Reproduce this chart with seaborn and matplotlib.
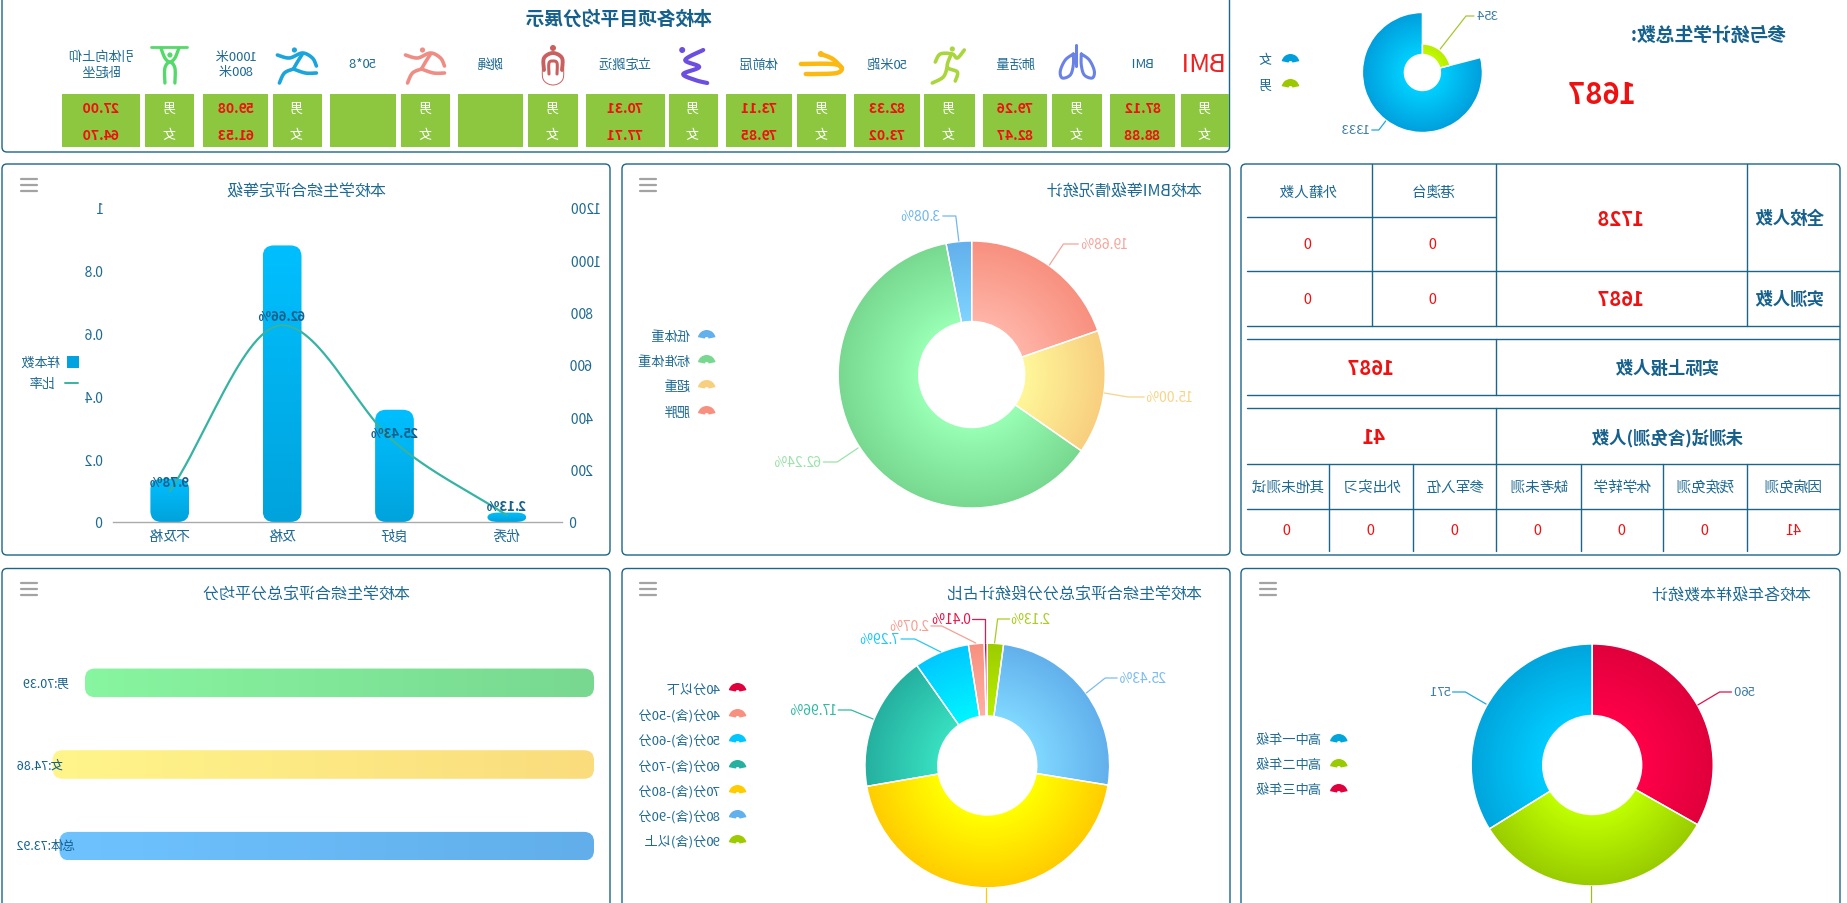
import numpy as np
import pandas as pd
import matplotlib
matplotlib.use("Agg")
import matplotlib.pyplot as plt
import seaborn as sns
from matplotlib.colors import LinearSegmentedColormap
from matplotlib.patches import FancyBboxPatch, Wedge, Circle

# top strip
item_names = ["BMI", "肺活量", "50米跑", "体前屈", "立定跳远", "跳绳", "50*8", "1000米\n800米", "引体向上仰\n卧起坐"]
boy_scores = ["87.12", "79.26", "82.33", "73.11", "70.31", "", "", "59.08", "27.00"]
girl_scores = ["88.88", "82.47", "73.02", "79.85", "77.71", "", "", "61.53", "64.70"]

# gender donut
gender_names = ["女", "男"]
gender_counts = [1333, 354]
total_students = 1687

# grade bars
level_names = ["优秀", "良好", "及格", "不及格"]
level_counts = [36, 429, 1057, 165]
level_ratio = [0.0213, 0.2543, 0.6266, 0.0978]
level_ticks_count = [0, 200, 400, 600, 800, 1000, 1200]
level_ticks_ratio = [0, 0.2, 0.4, 0.6, 0.8, 1]

# bmi donut
bmi_names = ["低体重", "标准体重", "超重", "肥胖"]
bmi_share = [3.08, 62.24, 15.00, 19.68]

# average score
avg_names = ["男", "女", "总体"]
avg_scores = [70.39, 74.86, 73.92]

# score bands
band_names = ["40分以下", "40分(含)-50分", "50分(含)-60分", "60分(含)-70分", "70分(含)-80分", "80分(含)-90分", "90分(含)以上"]
band_share = [0.41, 2.07, 7.29, 17.96, 44.71, 25.43, 2.13]

# year groups
year_names = ["高中一年级", "高中二年级", "高中三年级"]
year_counts = [571, 556, 560]

# table
school_total = 1728
reported_total = 1687
untested_total = 41
absent_names = ["因病免测", "残疾免测", "休学转学", "缺考未测", "参军入伍", "外出实习", "其他未测试"]
absent_counts = [41, 0, 0, 0, 0, 0, 0]

W, H = 1847, 904
BLUE = "#1c6488"
TEXT = "#1f6a92"
RED = "#ee1111"

sns.set_theme(style="white")
plt.rcParams["font.family"] = ["Noto Sans CJK SC", "DejaVu Sans"]

fig = plt.figure(figsize=(W / 100, H / 100), dpi=100, facecolor="white")


# the reference is a mirror image, so the whole canvas gets flipped when it is drawn
def mirror(img, dpi):
    return img[:, ::-1], 0, 0


fig.set_agg_filter(mirror)


# all coordinates below are pixels of the final (mirrored) picture
def px_axes(x0, y0, x1, y1):
    ax = fig.add_axes([(W - x1) / W, (H - y1) / H, (x1 - x0) / W, (y1 - y0) / H])
    ax.patch.set_visible(False)
    return ax


def layer(z):
    ax = fig.add_axes([0, 0, 1, 1], zorder=z)
    ax.set_xlim(W, 0)
    ax.set_ylim(H, 0)
    ax.set_axis_off()
    ax.patch.set_visible(False)
    return ax


bg = layer(0)
fg = layer(5)


def put(x, y, s, size=10, color=TEXT, bold=False, ha="center", ax=fg):
    # ha is on the unflipped canvas: "left" grows to the left in the picture
    ax.text(x, y, s, fontsize=size, color=color, ha=ha, va="center",
            fontweight="bold" if bold else "normal", linespacing=1.25)


def panel(x0, y0, x1, y1):
    bg.add_patch(FancyBboxPatch((x0, y0), x1 - x0, y1 - y0, boxstyle="round,pad=0,rounding_size=5",
                                fc="white", ec=BLUE, lw=1.0))


def menu(x0, y):
    for d in [0, 6, 12]:
        bg.plot([x0, x0 + 16], [y + d, y + d], color="#a3a3a3", lw=1.6)


def fan(x, y, color):
    bg.add_patch(Wedge((x, y + 3), 9, 192, 348, width=7, fc=color, ec="none"))


def leader(pts, color):
    xs, ys = zip(*pts)
    fg.plot(xs, ys, color=color, lw=0.9)


def rounded_bar(ax, patch, c0, c1, radius, along_x=False):
    # swap a seaborn bar for a rounded one with a gradient
    x, y, w, h = patch.get_x(), patch.get_y(), patch.get_width(), patch.get_height()
    xlim, ylim = ax.get_xlim(), ax.get_ylim()
    bb = ax.get_window_extent()
    xpp = abs(xlim[1] - xlim[0]) / bb.width
    ypp = abs(ylim[1] - ylim[0]) / bb.height
    rx = min(radius, abs(w) / xpp / 2)
    ry = min(radius, abs(h) / ypp / 2)
    box = FancyBboxPatch((x, y), w, h, boxstyle=f"round,pad=0,rounding_size={rx * xpp}",
                         mutation_aspect=(ry * ypp) / (rx * xpp), fc="none", ec="none")
    ax.add_patch(box)
    ramp = np.linspace(0, 1, 64)
    ramp = ramp[None, :] if along_x else ramp[:, None]
    cmap = LinearSegmentedColormap.from_list("g", [c0, c1])
    im = ax.imshow(ramp, cmap=cmap, extent=[x, x + w, y, y + h], origin="lower", aspect="auto", zorder=2)
    im.set_clip_path(box)
    patch.set_visible(False)
    ax.set_xlim(xlim)
    ax.set_ylim(ylim)


def donut(cx, cy, R, r, values, inner, outer, radii=None):
    ax = px_axes(cx - 1.25 * R, cy - 1.25 * R, cx + 1.25 * R, cy + 1.25 * R)
    wedges, _ = ax.pie(values, radius=R, startangle=90, counterclock=False,
                       wedgeprops=dict(width=R - r, facecolor="none", edgecolor="white", lw=1.0))
    g = np.linspace(-R, R, 400)
    dist = np.hypot(*np.meshgrid(g, g))
    for i, w in enumerate(wedges):
        if radii is not None:
            w.set_radius(radii[i])
            w.set_width(radii[i] - r)
        cmap = LinearSegmentedColormap.from_list("g", [inner[i], outer[i]])
        im = ax.imshow(np.clip((dist - r) / (R - r), 0, 1), cmap=cmap, vmin=0, vmax=1,
                       extent=[-R, R, -R, R], origin="lower", zorder=0.5)
        im.set_clip_path(w)
        w.set_zorder(1)
    ax.set_xlim(-1.25 * R, 1.25 * R)
    ax.set_ylim(-1.25 * R, 1.25 * R)
    return ax


def monotone_curve(x, y, n=60):
    x, y = np.asarray(x, float), np.asarray(y, float)
    s = np.diff(y) / np.diff(x)
    m = np.r_[s[0], (s[:-1] + s[1:]) / 2, s[-1]]
    m[1:-1][s[:-1] * s[1:] <= 0] = 0
    xs, ys = [], []
    for i in range(len(x) - 1):
        t = np.linspace(0, 1, n)
        d = x[i + 1] - x[i]
        ys.append((2 * t**3 - 3 * t**2 + 1) * y[i] + (t**3 - 2 * t**2 + t) * d * m[i]
                  + (-2 * t**3 + 3 * t**2) * y[i + 1] + (t**3 - t**2) * d * m[i + 1])
        xs.append(x[i] + t * d)
    return np.concatenate(xs), np.concatenate(ys)


def stroke(cx, cy, pts, color, lw=2.2, s=1.0):
    # Catmull-Rom through a few hand points, for the little sport icons
    p = np.array(pts, float)
    if len(p) > 2:
        q = np.vstack([p[0], p, p[-1]])
        out = []
        for i in range(1, len(q) - 2):
            for t in np.linspace(0, 1, 10):
                out.append(0.5 * (2 * q[i] + (q[i + 1] - q[i - 1]) * t
                                  + (2 * q[i - 1] - 5 * q[i] + 4 * q[i + 1] - q[i + 2]) * t**2
                                  + (3 * q[i] - q[i - 1] - 3 * q[i + 1] + q[i + 2]) * t**3))
        p = np.array(out)
    bg.plot(cx + s * p[:, 0], cy + s * p[:, 1], color=color, lw=lw, solid_capstyle="round", solid_joinstyle="round")


def head(cx, cy, dx, dy, r, color):
    bg.add_patch(Circle((cx + dx, cy + dy), r, fc=color, ec="none"))


def runner_a(cx, cy, color):
    head(cx, cy, -3, -15, 2.6, color)
    stroke(cx, cy, [(-20, -10), (-8, -7), (5, -12), (15, -7), (19, 1)], color, 2.6)
    stroke(cx, cy, [(5, -11), (0, -3), (-4, 4)], color, 2.6)
    stroke(cx, cy, [(-4, 4), (8, 8), (19, 8)], color, 2.6)
    stroke(cx, cy, [(-4, 4), (-13, 8), (-18, 18)], color, 2.6)


# panels
panel(2, -4, 1229.5, 153)
for x0, x1 in [(2, 610), (622, 1230), (1241, 1840)]:
    panel(x0, 165, x1, 556)
    panel(x0, 569.5, x1, 930)

# top strip
put(619, 19, "本校各项目平均分展示", 13.5, "#16608c", True)
gender_cells = [(1180.6, 1229), (1052.4, 1102.2), (923.9, 974.7), (797.4, 846.2), (668.8, 717.6),
                (528, 578), (400.6, 450.4), (273, 321.8), (145.5, 194.3)]
score_cells = [(1110.2, 1175), (982.7, 1047.5), (854.2, 919.9), (725.6, 792.4), (586, 664.8),
               (458.3, 523.1), (329.8, 395.6), (203.3, 268), (61.8, 140.5)]
for name, boy, girl, gc, sc in zip(item_names, boy_scores, girl_scores, gender_cells, score_cells):
    for c in (gc, sc):
        bg.fill_between(c, 95, 148, color="#8dc73f", lw=0)
    gx, sx = sum(gc) / 2, sum(sc) / 2
    put(gx, 109, "男", 9.5, "white")
    put(gx, 136, "女", 9.5, "white")
    put(sx, 109, boy, 10, RED, True)
    put(sx, 136, girl, 10, RED, True)
    put(sx, 65, name, 9.5)

y = 66
put(sum(gender_cells[0]) / 2 - 1, y - 1, "BMI", 18.5, "#ee2222")
# lungs
c = (sum(gender_cells[1]) / 2, y - 3)
stroke(*c, [(0, -17), (0, 4)], "#6a82e6", 2.2)
stroke(*c, [(-4, -8), (-12, -2), (-17, 9), (-15, 16), (-7, 13), (-4, 3), (-4, -8)], "#6a82e6", 2.2)
stroke(*c, [(4, -8), (12, -2), (17, 9), (15, 16), (7, 13), (4, 3), (4, -8)], "#6a82e6", 2.2)
# sprint
c = (sum(gender_cells[2]) / 2, y)
g = "#a9d63c"
head(*c, 3, -16, 2.6, g)
stroke(*c, [(-14, -3), (-9, -11), (3, -11), (8, -7), (15, -15)], g, 2.6)
stroke(*c, [(2, -11), (-2, 2), (8, 7), (6, 16)], g, 2.6)
stroke(*c, [(-2, 2), (-6, 12), (-17, 18)], g, 2.6)
# sit and reach
c = (sum(gender_cells[3]) / 2, y)
g = "#fdb913"
head(*c, -1, -11, 3, g)
stroke(*c, [(-21, -1), (11, -1), (20, 3), (15, 8), (-5, 9), (-16, 9)], g, 3.2)
stroke(*c, [(-1, -11), (11, -6), (20, 3)], g, 3.2)
# standing jump
c = (sum(gender_cells[4]) / 2, y)
g = "#6c4fe0"
head(*c, -11, -15, 3, g)
stroke(*c, [(10, -15), (-8, -5), (6, 2), (-10, 9), (2, 15), (14, 18)], g, 3)
# rope
c = (sum(gender_cells[5]) / 2, y)
g = "#c9605f"
head(*c, 0, -17, 3, g)
stroke(*c, [(-9, 5), (-9, -7), (0, -12), (9, -7), (9, 5)], g, 2.8)
stroke(*c, [(-4, 9), (-4, -2), (0, -4), (4, -2), (4, 9)], g, 2.2)
stroke(*c, [(-10, -5), (-10, 14), (0, 20), (10, 14), (10, -5)], g, 0.7)
runner_a(sum(gender_cells[6]) / 2, y, "#ef8d85")
runner_a(sum(gender_cells[7]) / 2, y, "#1aa5dc")
# pull up
c = (sum(gender_cells[8]) / 2, y)
g = "#55d96a"
stroke(*c, [(-18, -18), (18, -18)], g, 2)
head(*c, 0, -10, 2.6, g)
stroke(*c, [(-9, -17), (-5, -7), (0, -3), (5, -7), (9, -17)], g, 2.4)
stroke(*c, [(-5, 18), (-5, 3), (0, -3), (5, 3), (5, 18)], g, 2.4)

# gender donut
gender_in = ["#00d0ff", "#c2fa00"]
gender_out = ["#009fdc", "#9cc800"]
donut(1422.4, 73.5, 60, 18, gender_counts, gender_in, gender_out, radii=[60, 28.5])
leader([(1440.2, 50), (1466, 17), (1474, 17)], "#a5c830")
put(1476, 16, str(gender_counts[1]), 9.5, "#3d7ca3", ha="right")
leader([(1385.7, 122), (1378.8, 131), (1371.8, 131)], "#20a8dc")
put(1369.8, 130, str(gender_counts[0]), 9.5, "#3d7ca3", ha="left")
for name, col, yy in zip(gender_names, gender_out, [61, 86]):
    fan(1290.5, yy, col)
    put(1272.6, yy, name, 9.5, ha="left")
put(1786.6, 35, "参与统计学生总数:", 13.5, "#16608c", True, ha="left")
put(1602, 95, str(total_students), 21, RED, True)

# grade bars with ratio line
put(307, 191, "本校学生综合评定等级", 11.5)
menu(21, 180)
ax = px_axes(113.6, 209, 563, 523)
level_df = pd.DataFrame({"等级": level_names, "样本数": level_counts})
sns.barplot(data=level_df, x="等级", y="样本数", color="#00aeef", width=0.345, ax=ax)
ax.set_ylim(0, 1200)
ax.set_yticks(level_ticks_count)
ax.set_xlabel("")
ax.set_ylabel("")
ax.tick_params(axis="both", length=0, labelsize=10, labelcolor=TEXT, pad=5)
sns.despine(ax=ax, left=True)
ax.spines["bottom"].set_color("#aaaaaa")
ax.spines["bottom"].set_linewidth(1.0)
for bar in list(ax.patches):
    rounded_bar(ax, bar, "#00a3dc", "#00bfff", 11)
ax2 = ax.twinx()
ax2.patch.set_visible(False)
sns.lineplot(x=np.arange(len(level_ratio)), y=level_ratio, color="#36b3a2", lw=1.6, ax=ax2)
cx, cy = monotone_curve(np.arange(len(level_ratio)), level_ratio)
ax2.lines[0].set_data(cx, cy)
ax2.set_ylim(0, 1)
ax2.set_yticks(level_ticks_ratio)
ax2.set_yticklabels([str(t) for t in level_ticks_ratio])
ax2.tick_params(axis="y", length=0, labelsize=10, labelcolor=TEXT, pad=7)
sns.despine(ax=ax2, left=True, right=True, bottom=True)
for i, v in enumerate(level_ratio):
    ax2.annotate(f"{v * 100:.2f}%", (i, v), xytext=(0, 6.5), textcoords="offset points",
                 ha="center", va="center", fontsize=9.5, fontweight="bold", color="#15608c")
fg.fill_between([67, 79], 357, 369, color="#00a3e0", lw=0)
put(60, 363, "样本数", 9.5, ha="left")
fg.plot([65, 78], [384, 384], color="#36b3a2", lw=1.4)
put(55, 384, "比率", 9.5, ha="left")

# bmi donut
put(1202.4, 191, "本校BMI等级情况统计", 11.5, ha="left")
menu(640, 180)
bmi_in = ["#7fd4ff", "#98ffb4", "#fff79a", "#ffb5a8"]
bmi_out = ["#62b0ec", "#78d890", "#f8cf7f", "#f8907f"]
donut(971.7, 375.5, 133.5, 53, bmi_share, bmi_in, bmi_out)
bmi_lines = [[(958.8, 242), (955.8, 217), (942.8, 217)], [(858.1, 449), (837.2, 463), (823.3, 463)],
             [(1104.3, 394), (1128.2, 398), (1144.1, 398)], [(1049.4, 266), (1063.4, 245), (1078.3, 245)]]
bmi_text = [(940.8, "left", "#72b8ee"), (821.3, "left", "#9be3a8"), (1146.1, "right", "#f5d58a"), (1080.3, "right", "#f5a59a")]
for v, pts, (tx, ha, col) in zip(bmi_share, bmi_lines, bmi_text):
    leader(pts, col)
    put(tx, pts[-1][1], f"{v:.2f}%", 10, col, ha=ha)
for name, col, yy in zip(bmi_names, bmi_out, [337, 362, 387, 413]):
    fan(706.7, yy, col)
    put(690.2, yy, name, 9.5, ha="left")


# table
def hline(y, x0=1248, x1=1840):
    bg.plot([x0, x1], [y, y], color=BLUE, lw=1.0)


def vline(x, y0, y1):
    bg.plot([x, x], [y0, y1], color=BLUE, lw=1.0)


hline(218, 1248, 1497)
for yy in [271.5, 327, 340, 396, 409, 465, 509.5]:
    hline(yy)
for xx in [1373, 1497, 1748.4]:
    vline(xx, 165, 327)
vline(1497, 340, 396)
vline(1497, 409, 465)
for xx in [1330.4, 1414, 1497, 1581.6, 1664, 1748.4]:
    vline(xx, 465, 552)
put(1789, 219, "全校人数", 12.5, "#16608c", True)
put(1789, 300, "实测人数", 12.5, "#16608c", True)
put(1621.3, 219, str(school_total), 14.5, RED, True)
put(1621.3, 300, str(reported_total), 14.5, RED, True)
put(1433.6, 192.5, "港澳台", 10.5)
put(1308.5, 192.5, "外籍人数", 10.5)
for xx in [1433.6, 1308.5]:
    put(xx, 245, "0", 10.5, RED)
    put(xx, 300, "0", 10.5, RED)
put(1667, 369, "实际上报人数", 12.5, "#16608c", True)
put(1371, 369, str(reported_total), 14.5, RED, True)
put(1667, 438, "未测试(含免测)人数", 12.5, "#16608c", True)
put(1373, 438, str(untested_total), 14.5, RED, True)
for xx, name, v in zip([1793, 1705.7, 1622.3, 1539, 1455.5, 1372, 1287.7], absent_names, absent_counts):
    put(xx, 488, name, 10.5)
    put(xx, 531, str(v), 10.5, RED)

# average score bars
put(307, 595, "本校学生综合评定总分平均分", 11.5)
menu(21, 584)
ax = px_axes(15.5, 643, 594, 888)
sns.barplot(x=avg_scores, y=avg_names, hue=avg_names, width=0.35, orient="h", legend=False, ax=ax)
ax.set_xlim(0, 80)
ax.set_axis_off()
avg_base = ["#78d890", "#fadc7d", "#61aeea"]
avg_tip = ["#88f5a0", "#fff58a", "#6ec3ff"]
for bar, c0, c1 in zip(list(ax.patches), avg_base, avg_tip):
    rounded_bar(ax, bar, c0, c1, 10, along_x=True)
for name, v, yy, xx in zip(avg_names, avg_scores, [684, 766, 847], [70, 63.5, 75.5]):
    put(xx, yy, f"{name}:{v:.2f}", 9, "#14608c", ha="left")

# score band donut
put(1202.4, 595, "本校学生综合评定总分分段统计占比", 11.5, ha="left")
menu(640, 584)
band_in = ["#ff0048", "#ffb0a5", "#00f5ff", "#38e0c0", "#ffff00", "#80d8ff", "#b8ee00"]
band_out = ["#e0003c", "#f8907f", "#00c8ff", "#25b0a0", "#ffcc00", "#62b0ec", "#9ccc00"]
donut(987.3, 766.5, 122.3, 49.5, band_share, band_in, band_out)
band_lines = [[(985.7, 644), (985.7, 620), (972.7, 620)], [(975.7, 644), (941.8, 627), (930.9, 627)],
              [(940.8, 653), (914.9, 640), (901, 640)], [(873.1, 720), (851.2, 711), (838.2, 711)],
              [(987.3, 889), (987.3, 910)], [(1086.3, 694), (1105.2, 679), (1117.2, 679)],
              [(994.6, 644), (997.6, 620), (1009.6, 620)]]
band_text = [(971.7, "left", "#e6174a"), (929.9, "left", "#f5a195"), (900, "left", "#25c8f5"), (837.2, "left", "#33b8a5"),
             None, (1119.2, "right", "#7cbcf0"), (1010.6, "right", "#a8cc22")]
band_line_col = ["#e6174a", "#f5a195", "#25c8f5", "#33b8a5", "#ffcc00", "#7cbcf0", "#a8cc22"]
for v, pts, t, col in zip(band_share, band_lines, band_text, band_line_col):
    leader(pts, col)
    if t is not None:
        put(t[0], pts[-1][1], f"{v:.2f}%", 10, t[2], ha=t[1])
for name, col, yy in zip(band_names, band_out, [690, 716, 741, 767, 792, 817, 842]):
    fan(737.6, yy, col)
    put(720.6, yy, name, 9.5, ha="left")

# year donut
put(1812, 595, "本校各年级样本数统计", 11.5, ha="left")
menu(1260, 584)
year_in = ["#00ccff", "#c0ff00", "#ff0048"]
year_out = ["#00a5dc", "#99cc00", "#e0003c"]
donut(1592.2, 766, 121, 49.5, year_counts, year_in, year_out)
leader([(1486, 705), (1465.4, 693), (1452.5, 693)], "#20a8dc")
put(1451, 693, str(year_counts[0]), 9.5, "#3d7ca3", ha="left")
leader([(1592.2, 887), (1592.2, 910)], "#a5b820")
leader([(1697.8, 706), (1719.6, 693), (1731.5, 693)], "#e0104a")
put(1733.5, 693, str(year_counts[2]), 9.5, "#3d7ca3", ha="right")
for name, col, yy in zip(year_names, year_out, [741, 766, 791]):
    fan(1338.8, yy, col)
    put(1322, yy, name, 9.5, ha="left")

fig.savefig("out.png", dpi=100, facecolor="white")
